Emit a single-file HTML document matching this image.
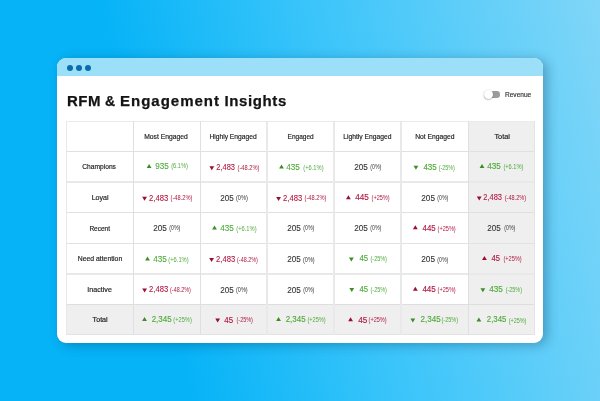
<!DOCTYPE html>
<html><head><meta charset="utf-8"><style>
html,body{margin:0;padding:0;}
body{width:600px;height:401px;overflow:hidden;position:relative;
 background:linear-gradient(77deg,#06b3f7 27.5%,#38c4fa 56.5%,#80d6f8 100%);
 font-family:"Liberation Sans",sans-serif;}
.card{position:absolute;left:57px;top:58px;width:486px;height:285px;background:#fff;border-radius:9px;
 box-shadow:4px 2px 12px rgba(0,30,60,0.3);overflow:hidden;}
.bar{position:absolute;left:0;top:0;width:486px;height:18px;background:#9bdff8;}
.dot{position:absolute;top:7px;width:6px;height:6px;border-radius:50%;background:#0a6cb0;}
.title{position:absolute;top:93px;font-weight:700;font-size:15px;line-height:15px;color:#141414;white-space:nowrap;-webkit-text-stroke:0.25px #141414;}
.tog{position:absolute;left:485px;top:91.3px;width:15.2px;height:6.4px;border-radius:3.2px;background:#9b9b9b;}
.knob{position:absolute;left:484.2px;top:90px;width:8.8px;height:8.8px;border-radius:50%;background:#fff;box-shadow:-0.2px 0.5px 1.4px rgba(0,0,0,0.42);}
.rev{position:absolute;left:505px;top:90.5px;font-size:6.55px;color:#333;white-space:nowrap;-webkit-text-stroke:0.15px #333;}
.hl{position:absolute;height:1px;background:#e2e2e2;}
.vl{position:absolute;width:1px;background:#e2e2e2;}
.gbg{position:absolute;background:#efefef;}
.t{position:absolute;white-space:nowrap;}
.h{font-size:6.8px;line-height:6.8px;color:#202020;-webkit-text-stroke:0.16px #202020;}
.lb{font-size:6.75px;line-height:6.75px;color:#202020;-webkit-text-stroke:0.16px #202020;}
.v{font-size:8.5px;line-height:8.5px;-webkit-text-stroke:0.1px currentColor;}
.p{font-size:6.5px;line-height:6.5px;-webkit-text-stroke:0px currentColor;}
.v.bd{-webkit-text-stroke:0.14px currentColor;}
.g{color:#50aa3a;} .r{color:#b0173f;} .n{color:#333;}
svg{position:absolute;left:0;top:0;}

</style></head><body><div id="wrap" style="position:absolute;left:0;top:0;width:600px;height:401px;will-change:transform">
<div class="card"><div class="bar">
<div class="dot" style="left:10px"></div><div class="dot" style="left:19px"></div><div class="dot" style="left:28px"></div>
</div></div>
<div class="title" style="left:67px;letter-spacing:0.45px">RFM</div><div class="title" style="left:105px;font-size:14px;top:93.5px">&amp;</div><div class="title" style="left:120px;letter-spacing:1px">Engagement</div><div class="title" style="left:224.6px;letter-spacing:0.6px">Insights</div>
<div class="tog"></div><div class="knob"></div>
<div class="rev">Revenue</div>

<div class="gbg" style="left:468px;top:121px;width:67px;height:214px"></div>
<div class="gbg" style="left:66px;top:304px;width:469px;height:31px"></div>
<div class="hl" style="left:66px;top:121px;width:469px;height:1px;background:#ebebeb"></div>
<div class="hl" style="left:66px;top:151px;width:469px;height:1px;background:#e0e0e0"></div>
<div class="hl" style="left:66px;top:181px;width:469px;height:2px;background:#e9e9e9"></div>
<div class="hl" style="left:66px;top:212px;width:469px;height:1px;background:#e0e0e0"></div>
<div class="hl" style="left:66px;top:243px;width:469px;height:1px;background:#e2e2e2"></div>
<div class="hl" style="left:66px;top:273px;width:469px;height:2px;background:#e9e9e9"></div>
<div class="hl" style="left:66px;top:304px;width:469px;height:1px;background:#dedede"></div>
<div class="hl" style="left:66px;top:334px;width:469px;height:1px;background:#e3e3e3"></div>
<div class="vl" style="left:66px;top:121px;width:1px;height:214px;background:#e8e8e8"></div>
<div class="vl" style="left:133px;top:121px;width:1px;height:214px;background:#e0e0e0"></div>
<div class="vl" style="left:200px;top:121px;width:1px;height:214px;background:#e0e0e0"></div>
<div class="vl" style="left:266px;top:121px;width:2px;height:214px;background:#e9e9e9"></div>
<div class="vl" style="left:333px;top:121px;width:2px;height:214px;background:#e9e9e9"></div>
<div class="vl" style="left:400px;top:121px;width:2px;height:214px;background:#e9e9e9"></div>
<div class="vl" style="left:468px;top:121px;width:1px;height:214px;background:#e0e0e0"></div>
<div class="vl" style="left:534px;top:121px;width:1px;height:214px;background:#e3e3e3"></div>
<div id="h0" class="t h" style="left:144.40px;top:134.00px;transform:scale(0.994,1.000);transform-origin:22.15px 2.40px">Most Engaged</div>
<div id="h1" class="t h" style="left:209.18px;top:134.00px;transform:scale(0.984,1.000);transform-origin:24.27px 2.30px">Highly Engaged</div>
<div id="h2" class="t h" style="left:286.65px;top:134.00px;transform:scale(0.958,1.000);transform-origin:13.80px 2.30px">Engaged</div>
<div id="h3" class="t h" style="left:343.32px;top:134.00px;transform:scale(0.989,1.000);transform-origin:24.13px 2.30px">Lightly Engaged</div>
<div id="h4" class="t h" style="left:414.90px;top:134.00px;transform:scale(0.991,1.000);transform-origin:19.75px 2.30px">Not Engaged</div>
<div id="h5" class="t h" style="left:494.69px;top:134.00px;transform:scale(1.078,1.000);transform-origin:6.91px 2.30px">Total</div>
<div id="l0" class="t lb" style="left:82.44px;top:164.00px;transform:scale(0.988,1.000);transform-origin:17.44px 2.80px">Champions</div>
<div id="l1" class="t lb" style="left:92.40px;top:195.00px;transform:scale(1.048,1.000);transform-origin:7.65px 2.30px">Loyal</div>
<div id="l2" class="t lb" style="left:88.84px;top:226.00px;transform:scale(0.964,1.000);transform-origin:10.96px 2.05px">Recent</div>
<div id="l3" class="t lb" style="left:78.20px;top:256.00px;transform:scale(1.014,1.000);transform-origin:21.80px 2.30px">Need attention</div>
<div id="l4" class="t lb" style="left:87.91px;top:287.00px;transform:scale(1.053,1.000);transform-origin:12.09px 2.30px">Inactive</div>
<div id="l5" class="t lb" style="left:92.84px;top:317.00px;transform:scale(1.058,1.000);transform-origin:6.96px 2.30px">Total</div>
<div id="v00" class="t v g" style="left:154.63px;top:162.00px;transform:scale(0.953,1.000);transform-origin:6.77px 4.27px">935</div>
<div id="p00" class="t p g" style="left:169.59px;top:163.40px;transform:scale(0.874,1.000);transform-origin:9.28px 3.50px">(6.1%)</div>
<div id="v01" class="t v r" style="left:214.56px;top:163.00px;transform:scale(0.877,1.000);transform-origin:10.69px 4.30px">2,483</div>
<div id="p01" class="t p r" style="left:235.61px;top:164.74px;transform:scale(0.875,1.000);transform-origin:12.19px 3.16px">(-48.2%)</div>
<div id="v02" class="t v g" style="left:286.37px;top:163.00px;transform:scale(0.959,1.000);transform-origin:7.08px 3.75px">435</div>
<div id="p02" class="t p g" style="left:301.64px;top:164.80px;transform:scale(0.883,1.000);transform-origin:11.16px 2.85px">(+6.1%)</div>
<div id="v03" class="t v n" style="left:354.35px;top:163.00px;transform:scale(0.960,1.000);transform-origin:6.75px 4.45px">205</div>
<div id="p03" class="t p n" style="left:368.71px;top:164.49px;transform:scale(0.804,1.000);transform-origin:6.79px 3.36px">(0%)</div>
<div id="v04" class="t v g bd" style="left:422.60px;top:163.00px;transform:scale(0.943,1.000);transform-origin:7.00px 3.90px">435</div>
<div id="p04" class="t p g" style="left:437.15px;top:164.56px;transform:scale(0.825,1.000);transform-origin:9.80px 3.09px">(-25%)</div>
<div id="v05" class="t v g bd" style="left:487.44px;top:162.00px;transform:scale(0.956,1.000);transform-origin:6.76px 4.50px">435</div>
<div id="p05" class="t p g" style="left:502.43px;top:163.87px;transform:scale(0.872,1.000);transform-origin:11.02px 3.43px">(+6.1%)</div>
<div id="v10" class="t v r" style="left:147.61px;top:194.00px;transform:scale(0.898,1.000);transform-origin:10.79px 3.65px">2,483</div>
<div id="p10" class="t p r" style="left:168.61px;top:194.86px;transform:scale(0.875,1.000);transform-origin:12.19px 3.44px">(-48.2%)</div>
<div id="v11" class="t v n" style="left:220.42px;top:194.00px;transform:scale(0.953,1.000);transform-origin:6.78px 3.85px">205</div>
<div id="p11" class="t p n" style="left:235.13px;top:195.45px;transform:scale(0.862,1.000);transform-origin:6.67px 3.40px">(0%)</div>
<div id="v12" class="t v r" style="left:281.61px;top:194.00px;transform:scale(0.898,1.000);transform-origin:10.79px 3.75px">2,483</div>
<div id="p12" class="t p r" style="left:302.61px;top:195.31px;transform:scale(0.875,1.000);transform-origin:12.19px 3.34px">(-48.2%)</div>
<div id="v13" class="t v r bd" style="left:355.37px;top:193.00px;transform:scale(0.959,1.000);transform-origin:7.08px 4.20px">445</div>
<div id="p13" class="t p r" style="left:369.58px;top:195.22px;transform:scale(0.860,1.000);transform-origin:10.92px 3.08px">(+25%)</div>
<div id="v14" class="t v n" style="left:420.70px;top:194.00px;transform:scale(0.968,1.000);transform-origin:7.30px 3.75px">205</div>
<div id="p14" class="t p n" style="left:435.71px;top:195.46px;transform:scale(0.804,1.000);transform-origin:6.79px 3.29px">(0%)</div>
<div id="v15" class="t v r" style="left:482.43px;top:193.00px;transform:scale(0.882,1.000);transform-origin:10.32px 4.20px">2,483</div>
<div id="p15" class="t p r" style="left:503.28px;top:194.59px;transform:scale(0.861,1.000);transform-origin:12.22px 3.16px">(-48.2%)</div>
<div id="v20" class="t v n" style="left:153.35px;top:224.00px;transform:scale(0.960,1.000);transform-origin:6.75px 4.45px">205</div>
<div id="p20" class="t p n" style="left:167.71px;top:225.46px;transform:scale(0.804,1.000);transform-origin:6.79px 3.29px">(0%)</div>
<div id="v21" class="t v g" style="left:219.71px;top:224.00px;transform:scale(0.956,1.000);transform-origin:6.89px 3.75px">435</div>
<div id="p21" class="t p g" style="left:234.64px;top:225.80px;transform:scale(0.883,1.000);transform-origin:11.16px 2.85px">(+6.1%)</div>
<div id="v22" class="t v n" style="left:287.35px;top:224.00px;transform:scale(0.960,1.000);transform-origin:6.75px 4.45px">205</div>
<div id="p22" class="t p n" style="left:301.71px;top:225.46px;transform:scale(0.804,1.000);transform-origin:6.79px 3.29px">(0%)</div>
<div id="v23" class="t v n" style="left:354.35px;top:224.00px;transform:scale(0.960,1.000);transform-origin:6.75px 4.45px">205</div>
<div id="p23" class="t p n" style="left:368.71px;top:225.46px;transform:scale(0.804,1.000);transform-origin:6.79px 3.29px">(0%)</div>
<div id="v24" class="t v r bd" style="left:422.49px;top:224.00px;transform:scale(0.921,1.000);transform-origin:6.71px 3.60px">445</div>
<div id="p24" class="t p r" style="left:436.18px;top:225.70px;transform:scale(0.857,1.000);transform-origin:11.17px 2.95px">(+25%)</div>
<div id="v25" class="t v n" style="left:487.37px;top:224.00px;transform:scale(0.948,1.000);transform-origin:7.13px 3.75px">205</div>
<div id="p25" class="t p n" style="left:502.74px;top:224.79px;transform:scale(0.795,1.000);transform-origin:6.66px 3.56px">(0%)</div>
<div id="v30" class="t v g" style="left:152.71px;top:255.00px;transform:scale(0.956,1.000);transform-origin:6.89px 3.75px">435</div>
<div id="p30" class="t p g" style="left:167.29px;top:256.71px;transform:scale(0.888,1.000);transform-origin:11.61px 2.94px">(+6.1%)</div>
<div id="v31" class="t v r" style="left:214.61px;top:255.00px;transform:scale(0.898,1.000);transform-origin:10.79px 4.00px">2,483</div>
<div id="p31" class="t p r" style="left:235.18px;top:256.78px;transform:scale(0.835,1.000);transform-origin:12.42px 2.87px">(-48.2%)</div>
<div id="v32" class="t v n" style="left:287.42px;top:255.00px;transform:scale(0.953,1.000);transform-origin:6.78px 3.85px">205</div>
<div id="p32" class="t p n" style="left:302.04px;top:256.91px;transform:scale(0.849,1.000);transform-origin:6.66px 3.09px">(0%)</div>
<div id="v33" class="t v g bd" style="left:358.66px;top:254.00px;transform:scale(0.917,1.000);transform-origin:4.84px 4.20px">45</div>
<div id="p33" class="t p g" style="left:368.59px;top:256.38px;transform:scale(0.841,1.000);transform-origin:9.51px 3.12px">(-25%)</div>
<div id="v34" class="t v n" style="left:420.70px;top:255.00px;transform:scale(0.968,1.000);transform-origin:7.30px 4.00px">205</div>
<div id="p34" class="t p n" style="left:435.71px;top:256.88px;transform:scale(0.804,1.000);transform-origin:6.79px 3.12px">(0%)</div>
<div id="v35" class="t v r bd" style="left:491.44px;top:254.00px;transform:scale(0.894,1.000);transform-origin:4.76px 4.20px">45</div>
<div id="p35" class="t p r" style="left:501.51px;top:256.32px;transform:scale(0.867,1.000);transform-origin:10.44px 3.18px">(+25%)</div>
<div id="v40" class="t v r" style="left:147.61px;top:285.00px;transform:scale(0.898,1.000);transform-origin:10.79px 4.20px">2,483</div>
<div id="p40" class="t p r" style="left:168.18px;top:286.81px;transform:scale(0.835,1.000);transform-origin:12.42px 2.94px">(-48.2%)</div>
<div id="v41" class="t v n" style="left:220.42px;top:286.00px;transform:scale(0.953,1.000);transform-origin:6.78px 3.75px">205</div>
<div id="p41" class="t p n" style="left:235.04px;top:287.47px;transform:scale(0.849,1.000);transform-origin:6.66px 3.18px">(0%)</div>
<div id="v42" class="t v n" style="left:287.35px;top:286.00px;transform:scale(0.960,1.000);transform-origin:6.75px 3.75px">205</div>
<div id="p42" class="t p n" style="left:301.71px;top:287.43px;transform:scale(0.804,1.000);transform-origin:6.79px 3.22px">(0%)</div>
<div id="v43" class="t v g bd" style="left:358.77px;top:285.00px;transform:scale(0.913,1.000);transform-origin:4.63px 4.05px">45</div>
<div id="p43" class="t p g" style="left:368.59px;top:286.92px;transform:scale(0.841,1.000);transform-origin:9.51px 3.23px">(-25%)</div>
<div id="v44" class="t v r bd" style="left:422.06px;top:285.00px;transform:scale(0.948,1.000);transform-origin:7.29px 4.05px">445</div>
<div id="p44" class="t p r" style="left:436.18px;top:286.85px;transform:scale(0.857,1.000);transform-origin:11.17px 3.30px">(+25%)</div>
<div id="v45" class="t v g bd" style="left:489.38px;top:285.00px;transform:scale(0.959,1.000);transform-origin:7.47px 4.20px">435</div>
<div id="p45" class="t p g" style="left:504.10px;top:286.56px;transform:scale(0.837,1.000);transform-origin:10.10px 3.44px">(-25%)</div>
<div id="v50" class="t v g bd" style="left:151.07px;top:315.00px;transform:scale(0.932,1.000);transform-origin:10.43px 4.35px">2,345</div>
<div id="p50" class="t p g" style="left:172.44px;top:317.30px;transform:scale(0.877,1.000);transform-origin:10.46px 3.20px">(+25%)</div>
<div id="v51" class="t v r bd" style="left:224.37px;top:316.00px;transform:scale(0.936,1.000);transform-origin:5.23px 3.50px">45</div>
<div id="p51" class="t p r" style="left:234.59px;top:317.38px;transform:scale(0.841,1.000);transform-origin:9.51px 3.12px">(-25%)</div>
<div id="v52" class="t v g bd" style="left:285.07px;top:315.00px;transform:scale(0.932,1.000);transform-origin:10.43px 4.35px">2,345</div>
<div id="p52" class="t p g" style="left:305.91px;top:317.38px;transform:scale(0.868,1.000);transform-origin:10.59px 3.12px">(+25%)</div>
<div id="v53" class="t v r bd" style="left:357.93px;top:316.00px;transform:scale(0.968,1.000);transform-origin:4.42px 3.50px">45</div>
<div id="p53" class="t p r" style="left:367.23px;top:317.31px;transform:scale(0.852,1.000);transform-origin:10.67px 2.99px">(+25%)</div>
<div id="v54" class="t v g bd" style="left:419.72px;top:315.00px;transform:scale(0.944,1.000);transform-origin:10.48px 4.35px">2,345</div>
<div id="p54" class="t p g" style="left:440.17px;top:317.29px;transform:scale(0.855,1.000);transform-origin:9.98px 3.21px">(-25%)</div>
<div id="v55" class="t v g bd" style="left:485.90px;top:315.00px;transform:scale(0.918,1.000);transform-origin:10.55px 4.35px">2,345</div>
<div id="p55" class="t p g" style="left:506.69px;top:317.59px;transform:scale(0.836,1.000);transform-origin:10.66px 2.91px">(+25%)</div>
<svg width="600" height="401" viewBox="0 0 600 401"><polygon fill="#3a8f22" points="146.69,167.90 151.50,167.90 149.09,163.90"/><polygon fill="#980f33" points="209.41,166.28 214.21,166.28 211.81,170.28"/><polygon fill="#3a8f22" points="279.11,168.62 283.91,168.62 281.51,164.62"/><polygon fill="#3a8f22" points="413.54,165.69 418.34,165.69 415.94,169.69"/><polygon fill="#3a8f22" points="479.60,168.08 484.40,168.08 482.00,164.08"/><polygon fill="#980f33" points="142.18,196.82 146.98,196.82 144.58,200.82"/><polygon fill="#980f33" points="276.18,196.91 280.98,196.91 278.58,200.91"/><polygon fill="#980f33" points="346.00,199.16 350.80,199.16 348.40,195.16"/><polygon fill="#980f33" points="476.82,196.51 481.62,196.51 479.22,200.51"/><polygon fill="#3a8f22" points="212.11,229.62 216.91,229.62 214.51,225.62"/><polygon fill="#980f33" points="412.95,229.16 417.75,229.16 415.35,225.16"/><polygon fill="#3a8f22" points="145.11,260.39 149.91,260.39 147.51,256.39"/><polygon fill="#980f33" points="209.18,257.91 213.98,257.91 211.58,261.91"/><polygon fill="#3a8f22" points="348.97,257.44 353.77,257.44 351.37,261.44"/><polygon fill="#980f33" points="482.03,260.07 486.83,260.07 484.43,256.07"/><polygon fill="#980f33" points="142.21,288.47 147.01,288.47 144.61,292.47"/><polygon fill="#3a8f22" points="349.35,288.07 354.15,288.07 351.75,292.07"/><polygon fill="#980f33" points="412.94,290.64 417.74,290.64 415.34,286.64"/><polygon fill="#3a8f22" points="480.45,288.14 485.25,288.14 482.85,292.14"/><polygon fill="#3a8f22" points="142.14,321.12 146.94,321.12 144.54,317.12"/><polygon fill="#980f33" points="215.24,318.44 220.04,318.44 217.64,322.44"/><polygon fill="#3a8f22" points="276.14,321.12 280.94,321.12 278.54,317.12"/><polygon fill="#980f33" points="348.18,321.26 352.98,321.26 350.58,317.26"/><polygon fill="#3a8f22" points="410.44,318.56 415.24,318.56 412.84,322.56"/><polygon fill="#3a8f22" points="476.48,321.39 481.28,321.39 478.88,317.39"/></svg>
</div></body></html>
